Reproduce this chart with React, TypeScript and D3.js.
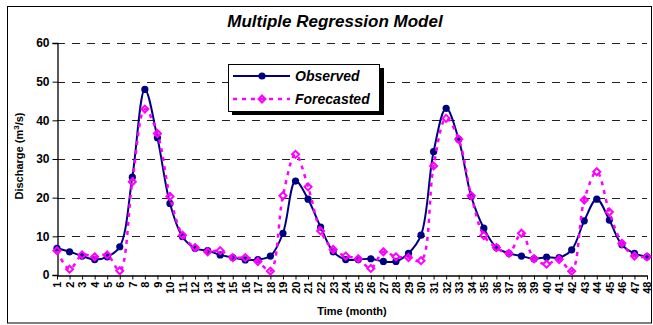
import React, { useEffect, useRef } from 'react';
import * as d3 from 'd3';

const months = d3.range(1, 49).map(String);

const observed = [
  6.9, 6.0, 4.9, 4.0, 4.7, 7.3, 25.3, 48.0, 35.5, 18.5, 9.9, 6.9,
  6.3, 5.2, 4.5, 3.9, 4.0, 4.9, 10.8, 24.3, 19.6, 12.4, 6.0, 4.0,
  4.0, 4.2, 3.5, 3.5, 5.6, 10.3, 31.9, 43.1, 35.1, 20.3, 12.1, 7.1,
  5.6, 4.9, 4.2, 4.6, 4.5, 6.5, 14.0, 19.6, 14.2, 7.8, 5.6, 4.7,
];

const forecasted = [
  6.3, 1.5, 5.2, 4.7, 5.2, 1.1, 24.1, 42.9, 36.6, 20.3, 10.3, 7.1,
  6.0, 6.3, 4.5, 4.5, 3.5, 1.0, 20.5, 31.2, 22.8, 11.4, 6.6, 4.9,
  4.2, 1.7, 6.0, 4.7, 4.5, 3.7, 28.2, 40.5, 35.1, 20.5, 10.2, 7.1,
  5.6, 10.8, 4.2, 2.8, 4.0, 1.0, 19.4, 26.7, 16.3, 8.2, 4.9, 4.7,
];

const yTicks = [0, 10, 20, 30, 40, 50, 60];

const W = 653;
const H = 325;

export default function App() {
  const svgRef = useRef<SVGSVGElement>(null);

  useEffect(() => {
    if (!svgRef.current) return;
    const svg = d3.select(svgRef.current);
    svg.selectAll('*').remove();

    const plot = { left: 57, right: 647, top: 43, bottom: 275 };
    const font = 'Arial, "Liberation Sans", sans-serif';

    // outer chart frame
    svg.append('rect')
      .attr('x', 7.5).attr('y', 6.5)
      .attr('width', 644).attr('height', 316.5)
      .attr('fill', '#fff')
      .attr('stroke', '#000')
      .attr('stroke-width', 1);

    svg.append('text')
      .attr('x', 335).attr('y', 27)
      .attr('text-anchor', 'middle')
      .style('font-family', font)
      .style('font-size', '17px')
      .style('font-weight', 'bold')
      .style('font-style', 'italic')
      .text('Multiple Regression Model');

    const x = d3.scalePoint<string>()
      .domain(months)
      .range([plot.left, plot.right]);

    const y = d3.scaleLinear()
      .domain([0, 60])
      .range([plot.bottom, plot.top]);

    // dashed grid lines
    svg.append('g')
      .selectAll('line')
      .data(yTicks.filter(t => t > 0))
      .enter().append('line')
      .attr('x1', plot.left).attr('x2', plot.right)
      .attr('y1', d => Math.round(y(d)) + 0.5)
      .attr('y2', d => Math.round(y(d)) + 0.5)
      .attr('stroke', '#222')
      .attr('stroke-width', 1.2)
      .attr('stroke-dasharray', '8,7');

    // y axis
    const yAxis = svg.append('g')
      .attr('transform', `translate(${plot.left + 0.5},0)`)
      .call(d3.axisLeft(y).tickValues(yTicks).tickSize(5).tickPadding(3));
    yAxis.select('.domain').attr('stroke', '#000').attr('stroke-width', 1.3);
    yAxis.selectAll('.tick line').attr('stroke', '#000');
    yAxis.selectAll('text')
      .style('font-family', font)
      .style('font-size', '12px')
      .style('font-weight', 'bold')
      .attr('fill', '#000');

    // x axis
    const xAxis = svg.append('g')
      .attr('transform', `translate(0,${plot.bottom + 0.5})`)
      .call(d3.axisBottom(x).tickSize(4).tickSizeOuter(0).tickPadding(2));
    xAxis.select('.domain').attr('stroke', '#000').attr('stroke-width', 1.3);
    xAxis.selectAll('.tick line').attr('stroke', '#000');
    xAxis.selectAll('text')
      .style('font-family', font)
      .style('font-size', '11px')
      .style('font-weight', 'bold')
      .attr('fill', '#000')
      .attr('transform', 'rotate(-90)')
      .attr('text-anchor', 'end')
      .attr('x', -6)
      .attr('y', 0)
      .attr('dy', '0.35em');

    // axis titles
    svg.append('text')
      .attr('transform', 'translate(23,156) rotate(-90)')
      .attr('text-anchor', 'middle')
      .style('font-family', font)
      .style('font-size', '11px')
      .style('font-weight', 'bold')
      .call(t => {
        t.append('tspan').text('Discharge (m');
        t.append('tspan').attr('dy', -4).style('font-size', '8px').text('3');
        t.append('tspan').attr('dy', 4).text('/s)');
      });

    svg.append('text')
      .attr('x', (plot.left + plot.right) / 2)
      .attr('y', 315)
      .attr('text-anchor', 'middle')
      .style('font-family', font)
      .style('font-size', '11px')
      .style('font-weight', 'bold')
      .text('Time (month)');

    const line = d3.line<number>()
      .x((_, i) => x(months[i]) as number)
      .y(d => y(d))
      .curve(d3.curveCatmullRom.alpha(0.5));

    const diamond = (cx: number, cy: number, r: number) =>
      `M${cx},${cy - r}L${cx + r},${cy}L${cx},${cy + r}L${cx - r},${cy}Z`;

    // observed series
    svg.append('path')
      .datum(observed)
      .attr('fill', 'none')
      .attr('stroke', '#000080')
      .attr('stroke-width', 2)
      .attr('d', line);

    svg.append('g')
      .selectAll('circle')
      .data(observed)
      .enter().append('circle')
      .attr('cx', (_, i) => x(months[i]) as number)
      .attr('cy', d => y(d))
      .attr('r', 3.6)
      .attr('fill', '#000080');

    // forecasted series
    svg.append('path')
      .datum(forecasted)
      .attr('fill', 'none')
      .attr('stroke', '#ff00ff')
      .attr('stroke-width', 2.5)
      .attr('stroke-dasharray', '4,5')
      .attr('d', line);

    svg.append('g')
      .selectAll('path')
      .data(forecasted)
      .enter().append('path')
      .attr('d', (d, i) => diamond(x(months[i]) as number, y(d), 3.5))
      .attr('fill', 'none')
      .attr('stroke', '#ff00ff')
      .attr('stroke-width', 2);

    // legend
    const lg = svg.append('g');
    lg.append('rect')
      .attr('x', 232).attr('y', 68)
      .attr('width', 152).attr('height', 47)
      .attr('fill', '#000');
    lg.append('rect')
      .attr('x', 228.5).attr('y', 64.5)
      .attr('width', 151).attr('height', 47)
      .attr('fill', '#fff')
      .attr('stroke', '#000')
      .attr('stroke-width', 1);

    lg.append('line')
      .attr('x1', 233).attr('x2', 290).attr('y1', 76).attr('y2', 76)
      .attr('stroke', '#000080').attr('stroke-width', 2);
    lg.append('circle')
      .attr('cx', 262).attr('cy', 76).attr('r', 3.6)
      .attr('fill', '#000080');
    lg.append('line')
      .attr('x1', 233).attr('x2', 290).attr('y1', 99).attr('y2', 99)
      .attr('stroke', '#ff00ff').attr('stroke-width', 2.5)
      .attr('stroke-dasharray', '4,5');
    lg.append('path')
      .attr('d', diamond(262, 99, 3.5))
      .attr('fill', 'none')
      .attr('stroke', '#ff00ff')
      .attr('stroke-width', 2);

    [['Observed', 81], ['Forecasted', 104]].forEach(([label, ty]) => {
      lg.append('text')
        .attr('x', 295).attr('y', ty as number)
        .style('font-family', font)
        .style('font-size', '14px')
        .style('font-weight', 'bold')
        .style('font-style', 'italic')
        .text(label as string);
    });
  }, []);

  return (
    <svg
      ref={svgRef}
      width={W}
      height={H}
      style={{ position: 'absolute', left: 0, top: 0, display: 'block', background: '#fff' }}
    />
  );
}
